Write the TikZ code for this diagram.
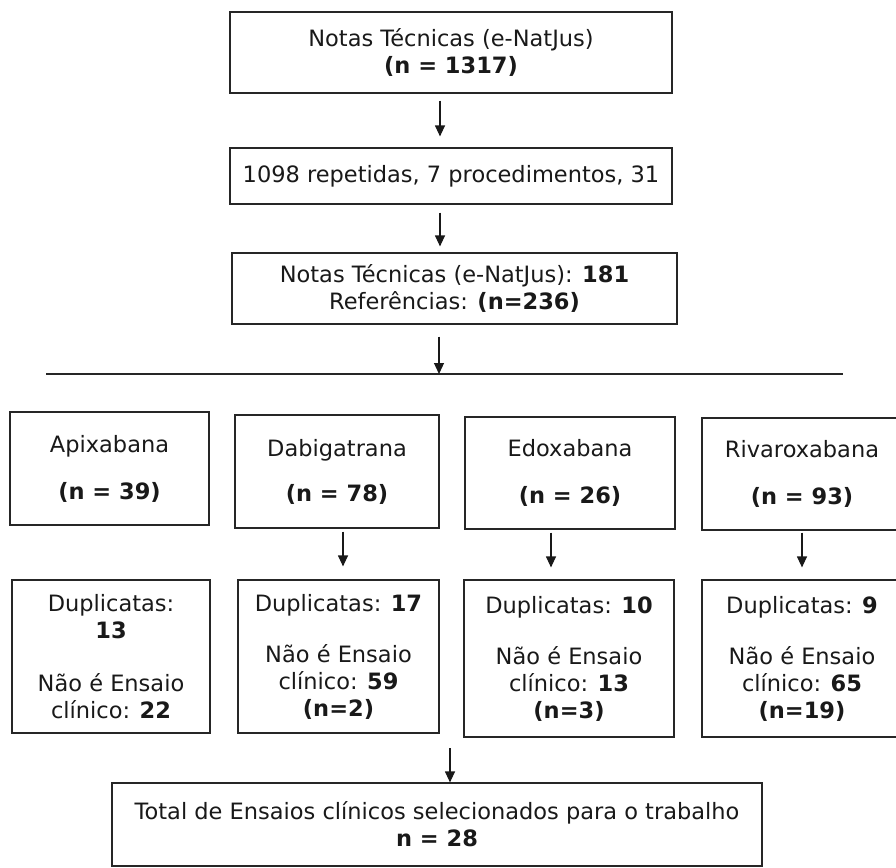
\documentclass[tikz,border=0pt]{standalone}
\usepackage{fontspec}
\setmainfont{DejaVu Sans}
\usetikzlibrary{arrows.meta, calc}

\begin{document}
\begin{tikzpicture}[x=1pt, y=-1pt, >={Triangle[length=11pt,width=10pt]},
    box/.style={draw=black!85, line width=1.2pt, inner sep=0pt, align=center,
        text=black!90, font=\fontsize{22.5}{27}\selectfont},
    flow/.style={->, line width=1.2pt, draw=black!90}]

\useasboundingbox (0,0) rectangle (896,867);

% =========================================================
%  TOP: search and screening
% =========================================================
\node[box, minimum width=442pt, minimum height=81pt] (notas) at (451,52.5)
    {Notas Técnicas (e-NatJus)\\\textbf{(n = 1317)}};
\node[box, minimum width=442pt, minimum height=56pt] (repet) at (451,176)
    {1098 repetidas, 7 procedimentos, 31};
\node[box, minimum width=445pt, minimum height=71pt] (refs) at (454.5,288.5)
    {Notas Técnicas (e-NatJus): \textbf{181}\\Referências: \textbf{(n=236)}};

\draw[flow, shorten <=7pt, shorten >=11pt]
    ([xshift=-11pt]notas.south) -- ([xshift=-11pt]repet.north);
\draw[flow, shorten <=8pt, shorten >=6pt]
    ([xshift=-11pt]repet.south) -- ([xshift=-11pt]repet.south |- refs.north);

% Split line
\coordinate (splitL) at (46,374);
\coordinate (splitR) at (843,374);
\draw[line width=1.2pt, black!85] (splitL) -- (splitR);
\draw[flow, shorten <=12pt]
    ([xshift=-15.5pt]refs.south) -- ([xshift=-15.5pt]refs.south |- splitL);

% =========================================================
%  MIDDLE: one column per drug
% =========================================================
\node[box, minimum width=199pt, minimum height=113pt] (apix) at (109.5,468.5)
    {Apixabana\\[20pt]\textbf{(n = 39)}};
\node[box, minimum width=204pt, minimum height=113pt] (dabig) at (337,471.5)
    {Dabigatrana\\[18pt]\textbf{(n = 78)}};
\node[box, minimum width=210pt, minimum height=112pt] (edox) at (570,473)
    {Edoxabana\\[20pt]\textbf{(n = 26)}};
\node[box, minimum width=200pt, minimum height=112pt] (riva) at (802,474)
    {Rivaroxabana\\[20pt]\textbf{(n = 93)}};

% Exclusions
\node[box, minimum width=198pt, minimum height=153pt] (apixout) at (111,656.5)
    {Duplicatas:\\\textbf{13}\\[26pt]Não é Ensaio\\clínico: \textbf{22}};
\node[box, minimum width=201pt, minimum height=153pt] (dabigout) at (338.5,656.5)
    {Duplicatas: \textbf{17}\\[24pt]Não é Ensaio\\clínico: \textbf{59}\\\textbf{(n=2)}};
\node[box, minimum width=210pt, minimum height=157pt] (edoxout) at (569,658.5)
    {Duplicatas: \textbf{10}\\[24pt]Não é Ensaio\\clínico: \textbf{13}\\\textbf{(n=3)}};
\node[box, minimum width=200pt, minimum height=157pt] (rivaout) at (802,658.5)
    {Duplicatas: \textbf{9}\\[24pt]Não é Ensaio\\clínico: \textbf{65}\\\textbf{(n=19)}};

\draw[flow, shorten <=3pt, shorten >=13pt]
    ([xshift=6pt]dabig.south) -- ([xshift=6pt]dabig.south |- dabigout.north);
\draw[flow, shorten <=3pt, shorten >=12pt]
    ([xshift=-19pt]edox.south) -- ([xshift=-19pt]edox.south |- edoxout.north);
\draw[flow, shorten <=2pt, shorten >=12pt]
    (riva.south) -- (riva.south |- rivaout.north);

% =========================================================
%  BOTTOM: final count
% =========================================================
\node[box, minimum width=650pt, minimum height=83pt] (total) at (437,824.5)
    {Total de Ensaios clínicos selecionados para o trabalho\\\textbf{n = 28}};

\coordinate (joinpt) at (450,748);
\draw[flow] (joinpt) -- (joinpt |- total.north);

\end{tikzpicture}
\end{document}
